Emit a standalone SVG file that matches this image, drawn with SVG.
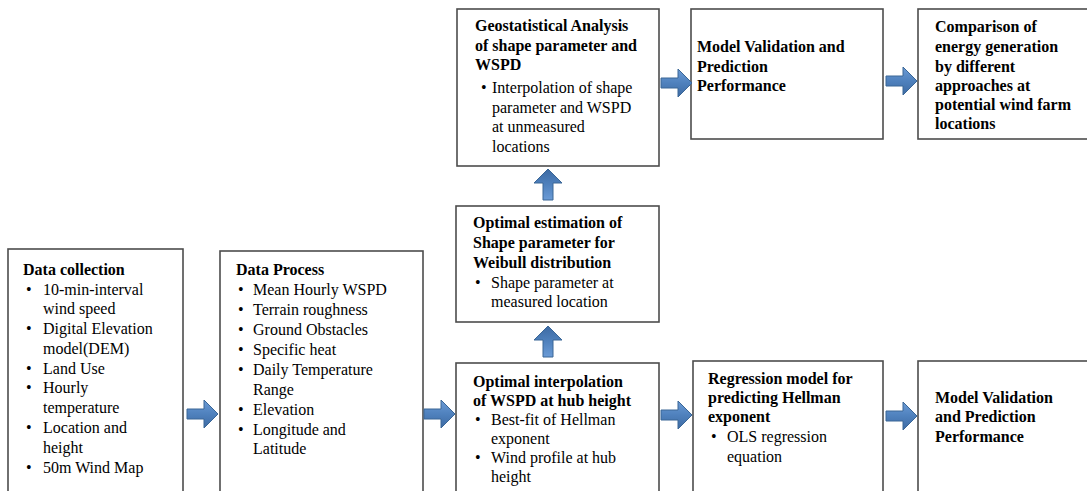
<svg xmlns="http://www.w3.org/2000/svg" xmlns:xlink="http://www.w3.org/1999/xlink" width="1087" height="491" viewBox="0 0 1087 491" font-family="'Liberation Serif', 'Times New Roman', serif" font-size="16">
<defs>
<linearGradient id="gh" x1="0" y1="0" x2="0" y2="1">
<stop offset="0" stop-color="#6b9bd6"/>
<stop offset="0.5" stop-color="#4f81bd"/>
<stop offset="1" stop-color="#3d6aa3"/>
</linearGradient>
<linearGradient id="gv" x1="0" y1="0" x2="1" y2="0">
<stop offset="0" stop-color="#6b9bd6"/>
<stop offset="0.5" stop-color="#4f81bd"/>
<stop offset="1" stop-color="#3d6aa3"/>
</linearGradient>
<path id="ar" d="M0,-5 H17 V-14 L31,0 L17,14 V5 H0 Z"/>
</defs>
<style>
.box{fill:#ffffff;stroke:#4d4d4d;stroke-width:1.6}
.t{font-family:"Liberation Serif",serif;font-size:16px;fill:#000000}
.h{font-weight:bold}
.ah{fill:url(#gh);stroke:#3a6696;stroke-width:1}
.av{fill:url(#gv);stroke:#3a6696;stroke-width:1}
</style>
<rect width="1087" height="491" fill="#ffffff"/>

<g id="geo" class="t">
<rect class="box" x="457" y="9" width="202" height="157"/>
<text class="h" x="475" y="31">Geostatistical Analysis</text>
<text class="h" x="475" y="51">of shape parameter and</text>
<text class="h" x="475" y="70">WSPD</text>
<text x="481" y="93">•</text><text x="492" y="93">Interpolation of shape</text>
<text x="492" y="113">parameter and WSPD</text>
<text x="492" y="132">at unmeasured</text>
<text x="492" y="152">locations</text>
</g>

<g id="validation-top" class="t">
<rect class="box" x="691" y="9" width="192" height="130"/>
<text class="h" x="697" y="52">Model Validation and</text>
<text class="h" x="697" y="72">Prediction</text>
<text class="h" x="697" y="91">Performance</text>
</g>

<g id="comparison" class="t">
<rect class="box" x="918" y="9" width="200" height="130"/>
<text class="h" x="935" y="32">Comparison of</text>
<text class="h" x="935" y="52">energy generation</text>
<text class="h" x="935" y="72">by different</text>
<text class="h" x="935" y="91">approaches at</text>
<text class="h" x="935" y="110">potential wind farm</text>
<text class="h" x="935" y="129">locations</text>
</g>

<g id="shape-estimation" class="t">
<rect class="box" x="456" y="206" width="203" height="116"/>
<text class="h" x="473" y="228">Optimal estimation of</text>
<text class="h" x="473" y="248">Shape parameter for</text>
<text class="h" x="473" y="268">Weibull distribution</text>
<text x="475" y="288">•</text><text x="491" y="288">Shape parameter at</text>
<text x="491" y="307">measured location</text>
</g>

<g id="interpolation" class="t">
<rect class="box" x="456" y="363" width="203" height="150"/>
<text class="h" x="473" y="387">Optimal interpolation</text>
<text class="h" x="473" y="406">of WSPD at hub height</text>
<text x="475" y="425">•</text><text x="491" y="425">Best-fit of Hellman</text>
<text x="491" y="444">exponent</text>
<text x="475" y="463">•</text><text x="491" y="463">Wind profile at hub</text>
<text x="491" y="482">height</text>
</g>

<g id="data-collection" class="t">
<rect class="box" x="8" y="249" width="175" height="260"/>
<text class="h" x="23" y="275">Data collection</text>
<text x="26" y="295">•</text><text x="43" y="295">10-min-interval</text>
<text x="43" y="314">wind speed</text>
<text x="26" y="334">•</text><text x="43" y="334">Digital Elevation</text>
<text x="43" y="354">model(DEM)</text>
<text x="26" y="374">•</text><text x="43" y="374">Land Use</text>
<text x="26" y="393">•</text><text x="43" y="393">Hourly</text>
<text x="43" y="413">temperature</text>
<text x="26" y="433">•</text><text x="43" y="433">Location and</text>
<text x="43" y="453">height</text>
<text x="26" y="473">•</text><text x="43" y="473">50m Wind Map</text>
</g>

<g id="data-process" class="t">
<rect class="box" x="220" y="251" width="203" height="260"/>
<text class="h" x="236" y="275">Data Process</text>
<text x="238" y="295">•</text><text x="253" y="295">Mean Hourly WSPD</text>
<text x="238" y="315">•</text><text x="253" y="315">Terrain roughness</text>
<text x="238" y="335">•</text><text x="253" y="335">Ground Obstacles</text>
<text x="238" y="355">•</text><text x="253" y="355">Specific heat</text>
<text x="238" y="375">•</text><text x="253" y="375">Daily Temperature</text>
<text x="253" y="395">Range</text>
<text x="238" y="415">•</text><text x="253" y="415">Elevation</text>
<text x="238" y="435">•</text><text x="253" y="435">Longitude and</text>
<text x="253" y="454">Latitude</text>
</g>

<g id="regression" class="t">
<rect class="box" x="693" y="361" width="190" height="150"/>
<text class="h" x="708" y="384">Regression model for</text>
<text class="h" x="708" y="403">predicting Hellman</text>
<text class="h" x="708" y="422">exponent</text>
<text x="711" y="442">•</text><text x="727" y="442">OLS regression</text>
<text x="727" y="462">equation</text>
</g>

<g id="validation-bottom" class="t">
<rect class="box" x="918" y="361" width="200" height="150"/>
<text class="h" x="935" y="403">Model Validation</text>
<text class="h" x="935" y="422">and Prediction</text>
<text class="h" x="935" y="442">Performance</text>
</g>

<g id="connectors">
<use xlink:href="#ar" class="ah" transform="translate(187,414)"/>
<use xlink:href="#ar" class="ah" transform="translate(424,414)"/>
<use xlink:href="#ar" class="ah" transform="translate(661,415)"/>
<use xlink:href="#ar" class="ah" transform="translate(886,416)"/>
<use xlink:href="#ar" class="ah" transform="translate(661,83)"/>
<use xlink:href="#ar" class="ah" transform="translate(886,81)"/>
<use xlink:href="#ar" class="av" transform="translate(548,200) rotate(-90)"/>
<use xlink:href="#ar" class="av" transform="translate(548,357) rotate(-90)"/>
</g>
</svg>
